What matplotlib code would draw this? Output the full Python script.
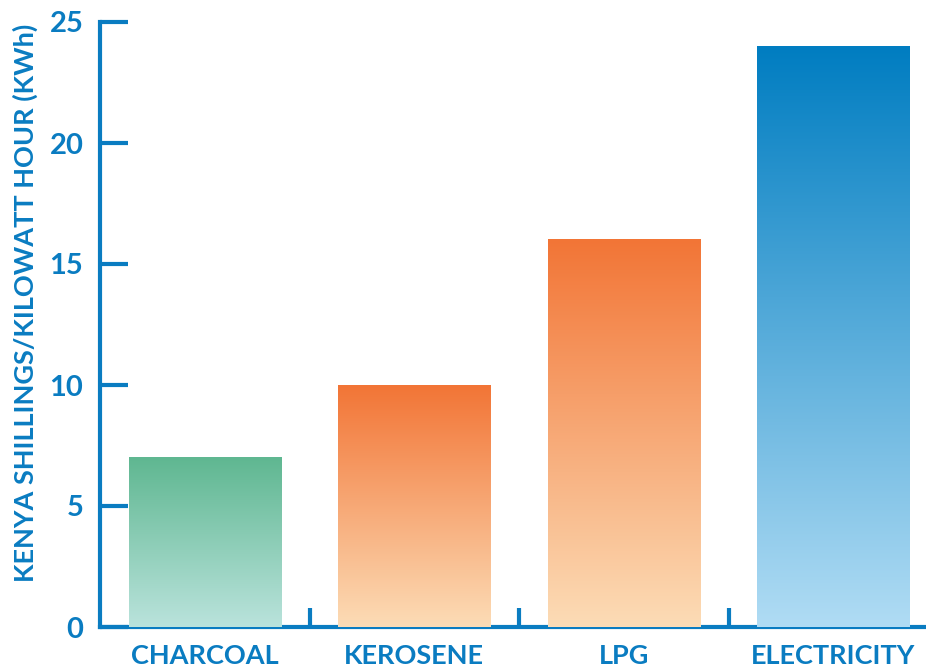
import matplotlib
matplotlib.use("Agg")
import matplotlib.pyplot as plt
import numpy as np
from matplotlib.colors import LinearSegmentedColormap

categories = ["CHARCOAL", "KEROSENE", "LPG", "ELECTRICITY"]
values = [7, 10, 16, 24]
top_colors = ["#5fb791", "#f27536", "#f27536", "#007dc1"]
bottom_colors = ["#bae3dc", "#fcdcb6", "#fcdcb6", "#b0dcf4"]
yticks = [0, 5, 10, 15, 20, 25]
ylabel = "KENYA SHILLINGS/KILOWATT HOUR (KWh)"

blue = "#0a7cc1"
plt.rcParams['font.family'] = ['Lato', 'DejaVu Sans']

fig = plt.figure(figsize=(9.26, 6.68), dpi=100)
ax = fig.add_axes([100/926, 41/668, 838/926, 605/668])

width = 0.726
grad = np.linspace(0, 1, 256).reshape(-1, 1)
for i, (v, ct, cb) in enumerate(zip(values, top_colors, bottom_colors)):
    cmap = LinearSegmentedColormap.from_list(f"c{i}", [cb, ct])
    ax.imshow(grad, cmap=cmap, origin="lower", aspect="auto",
              extent=(i - width/2, i + width/2, 0, v), zorder=3,
              interpolation="bilinear")

ax.set_xlim(-0.5, 3.5)
ax.set_ylim(0, 25)
for s in ["top", "right"]:
    ax.spines[s].set_visible(False)
for s in ["left", "bottom"]:
    ax.spines[s].set_color(blue)
    ax.spines[s].set_linewidth(3)
ax.spines["left"].set_zorder(1)
ax.spines["bottom"].set_zorder(1)

ax.set_yticks(yticks)
ax.set_yticklabels([str(t) for t in yticks], fontsize=21, fontweight="bold", color=blue)
ax.tick_params(axis="y", direction="in", length=20, width=3, color=blue, pad=12)

ax.set_xticks(np.arange(len(categories)))
ax.set_xticklabels(categories, fontsize=19.5, fontweight="bold", color=blue)
ax.tick_params(axis="x", length=0, pad=12)
ax.set_xticks([0.5, 1.5, 2.5], minor=True)
ax.tick_params(axis="x", which="minor", direction="in", length=14, width=3, color=blue)

fig.text(25/926, 1 - 303/668, ylabel, rotation=90, ha="center", va="center",
         fontsize=19.5, fontweight="bold", color=blue)

fig.savefig("out.png", dpi=100)
